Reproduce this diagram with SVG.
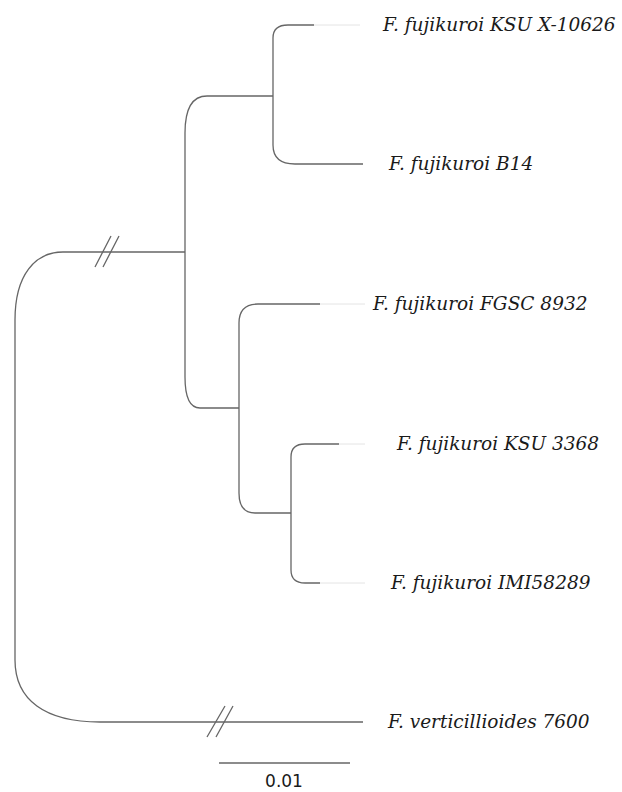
<svg xmlns="http://www.w3.org/2000/svg" width="622" height="792" viewBox="0 0 622 792">
<style>
.br{fill:none;stroke:#666;stroke-width:1.3}
.ft{fill:none;stroke:#e4e4e4;stroke-width:1}
.lb{font-family:"DejaVu Serif","Liberation Serif",serif;font-style:italic;font-size:18.5px;fill:#1a1a1a}
.sc{font-family:"DejaVu Sans","Liberation Sans",sans-serif;font-size:17px;fill:#1a1a1a}
</style>
<rect width="622" height="792" fill="#fff"/>
<g id="connectors">
<path class="br" d="M185,252 H63 C35,252 15,275 15,320 V660 C15,700 45,722 100,722 H363"/>
<path class="br" d="M273,96 H207 C193,96 185,108 185,133 V377 C185,398 190,408 200,408 H239"/>
<path class="br" d="M314,25 H288 C278,25 273,29 273,38 V145 C273,157 280,164 295,164 H363"/>
<path class="br" d="M320,304 H258 C245,304 239,310 239,323 V493 C239,506 244,513 255,513 H291"/>
<path class="br" d="M339,444 H305 C296,444 291,448 291,457 V570 C291,579 296,583 305,583 H320"/>
<path class="ft" d="M314,25 H360 M320,304 H365 M339,444 H365 M320,583 H365"/>
<path class="br" d="M95,267 L111,236 M103,267 L119,236 M207,737 L225,706 M216,737 L233,706"/>
<path class="br" d="M219,763 H350"/>
</g>
<g id="n1"><text class="lb" x="383" y="31">F. fujikuroi KSU X-10626</text></g>
<g id="n2"><text class="lb" x="389" y="170">F. fujikuroi B14</text></g>
<g id="n3"><text class="lb" x="373" y="310">F. fujikuroi FGSC 8932</text></g>
<g id="n4"><text class="lb" x="397" y="450">F. fujikuroi KSU 3368</text></g>
<g id="n5"><text class="lb" x="391" y="589">F. fujikuroi IMI58289</text></g>
<g id="n6"><text class="lb" x="388" y="728">F. verticillioides 7600</text></g>
<g id="scale"><text class="sc" x="284" y="787" text-anchor="middle">0.01</text></g>
</svg>
